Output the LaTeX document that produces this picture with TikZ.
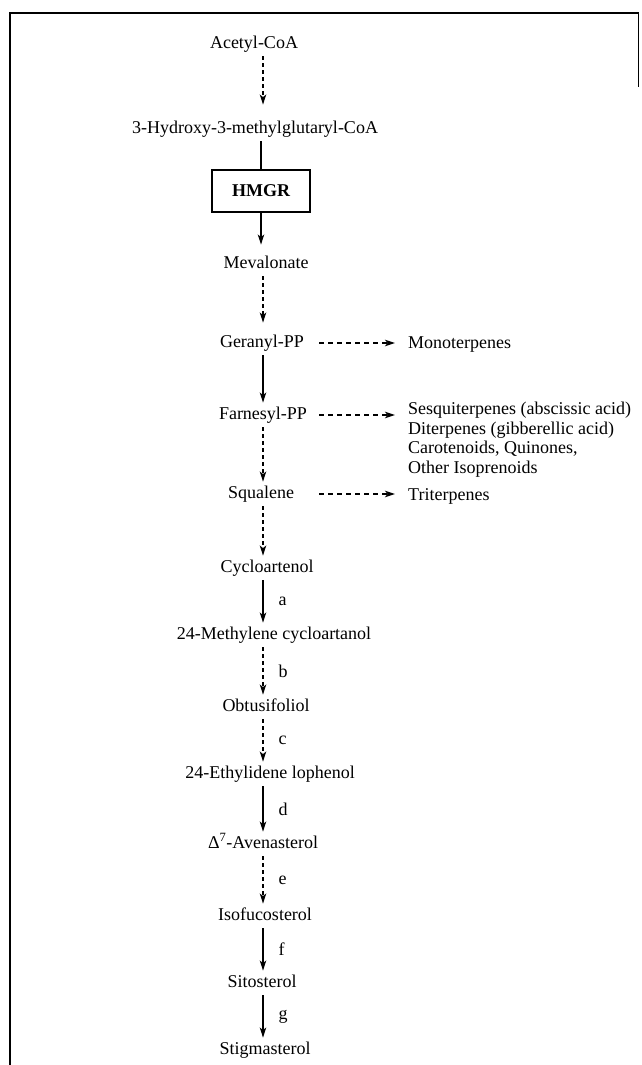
\documentclass[tikz,border=0pt]{standalone}
\usepackage{fontspec}
\setmainfont{Liberation Serif}
\usetikzlibrary{arrows.meta}

\begin{document}
\begin{tikzpicture}[x=1pt, y=-1pt, >={Stealth[length=10pt, width=6.5pt, inset=2.5pt]},
	compound/.style={font=\fontsize{18}{19.5}\selectfont, inner xsep=3pt, inner ysep=4pt, text height=12.5pt, text depth=4pt},
	product/.style={font=\fontsize{18}{19.5}\selectfont, inner sep=0pt, align=left},
	enzyme/.style={draw, line width=1.3pt, font=\fontsize{18}{19.5}\selectfont\bfseries, minimum width=98pt, minimum height=42pt},
	conv/.style={->, line width=1.3pt},
	convdash/.style={conv, dash pattern=on 4pt off 3pt},
	side/.style={->, line width=1.2pt, dash pattern=on 5pt off 4pt, shorten >=13pt},
	letter/.style={right, inner sep=0pt, xshift=15pt, font=\fontsize{18}{19.5}\selectfont}]

		\useasboundingbox (0,0) rectangle (641,1065);
		\draw[line width=1.8pt, line join=miter] (10,1065) -- (10,13) -- (638.5,13) -- (638.5,87);

		\coordinate (spine) at (263,0);
		\coordinate (sidecol) at (319,0);

		% main pathway
		\node[compound] (acetyl) at (254,44) {Acetyl-CoA};
		\node[compound] (hmgcoa) at (255,129) {3-Hydroxy-3-methylglutaryl-CoA};
		\node[enzyme] (hmgr) at (261,191) {HMGR};
		\node[compound] (meval) at (266,264) {Mevalonate};
		\node[compound] (geranyl) at (262,343) {Geranyl-PP};
		\node[compound] (farnesyl) at (263,415) {Farnesyl-PP};
		\node[compound] (squalene) at (261,494) {Squalene};
		\node[compound] (cyclo) at (267,568) {Cycloartenol};
		\node[compound] (methylene) at (274,635) {24-Methylene cycloartanol};
		\node[compound] (obtus) at (266,707) {Obtusifoliol};
		\node[compound] (ethyl) at (270,774) {24-Ethylidene lophenol};
		\node[compound] (aven) at (263,844) {Δ\textsuperscript{7}-Avenasterol};
		\node[compound] (isofuco) at (265,916) {Isofucosterol};
		\node[compound] (sito) at (262,983) {Sitosterol};
		\node[compound] (stigma) at (265,1050) {Stigmasterol};

		% side products
		\node[product, anchor=west] (mono) at (408,345) {Monoterpenes};
		\node[product, anchor=north west] (sesqui) at (408,402) {Sesquiterpenes (abscissic acid)\\Diterpenes (gibberellic acid)\\Carotenoids, Quinones,\\Other Isoprenoids};
		\node[product, anchor=west] (triter) at (408,496) {Triterpenes};

		\path
		(acetyl.south -| spine) edge[convdash, shorten >=12pt] (hmgcoa.north -| spine)
		(hmgcoa.south -| hmgr) edge[line width=1.3pt] (hmgr.north)
		(hmgr.south) edge[conv, shorten >=7pt] (meval.north -| hmgr)
		(meval.south -| spine) edge[convdash, shorten >=8pt] (geranyl.north -| spine)
		(geranyl.south -| spine) edge[conv] (farnesyl.north -| spine)
		(farnesyl.south -| spine) edge[convdash] (squalene.north -| spine)
		(squalene.south -| spine) edge[convdash] (cyclo.north -| spine)
		(cyclo.south -| spine) edge[conv] node[letter] {a} (methylene.north -| spine)
		(methylene.south -| spine) edge[convdash] node[letter] {b} (obtus.north -| spine)
		(obtus.south -| spine) edge[convdash] node[letter] {c} (ethyl.north -| spine)
		(ethyl.south -| spine) edge[conv] node[letter] {d} (aven.north -| spine)
		(aven.south -| spine) edge[convdash] node[letter] {e} (isofuco.north -| spine)
		(isofuco.south -| spine) edge[conv] node[letter] {f} (sito.north -| spine)
		(sito.south -| spine) edge[conv] node[letter] {g} (stigma.north -| spine);

		\path
		(sidecol |- geranyl) edge[side] (mono.west |- geranyl)
		(sidecol |- farnesyl) edge[side] (sesqui.west |- farnesyl)
		(sidecol |- squalene) edge[side] (triter.west |- squalene);

\end{tikzpicture}
\end{document}
